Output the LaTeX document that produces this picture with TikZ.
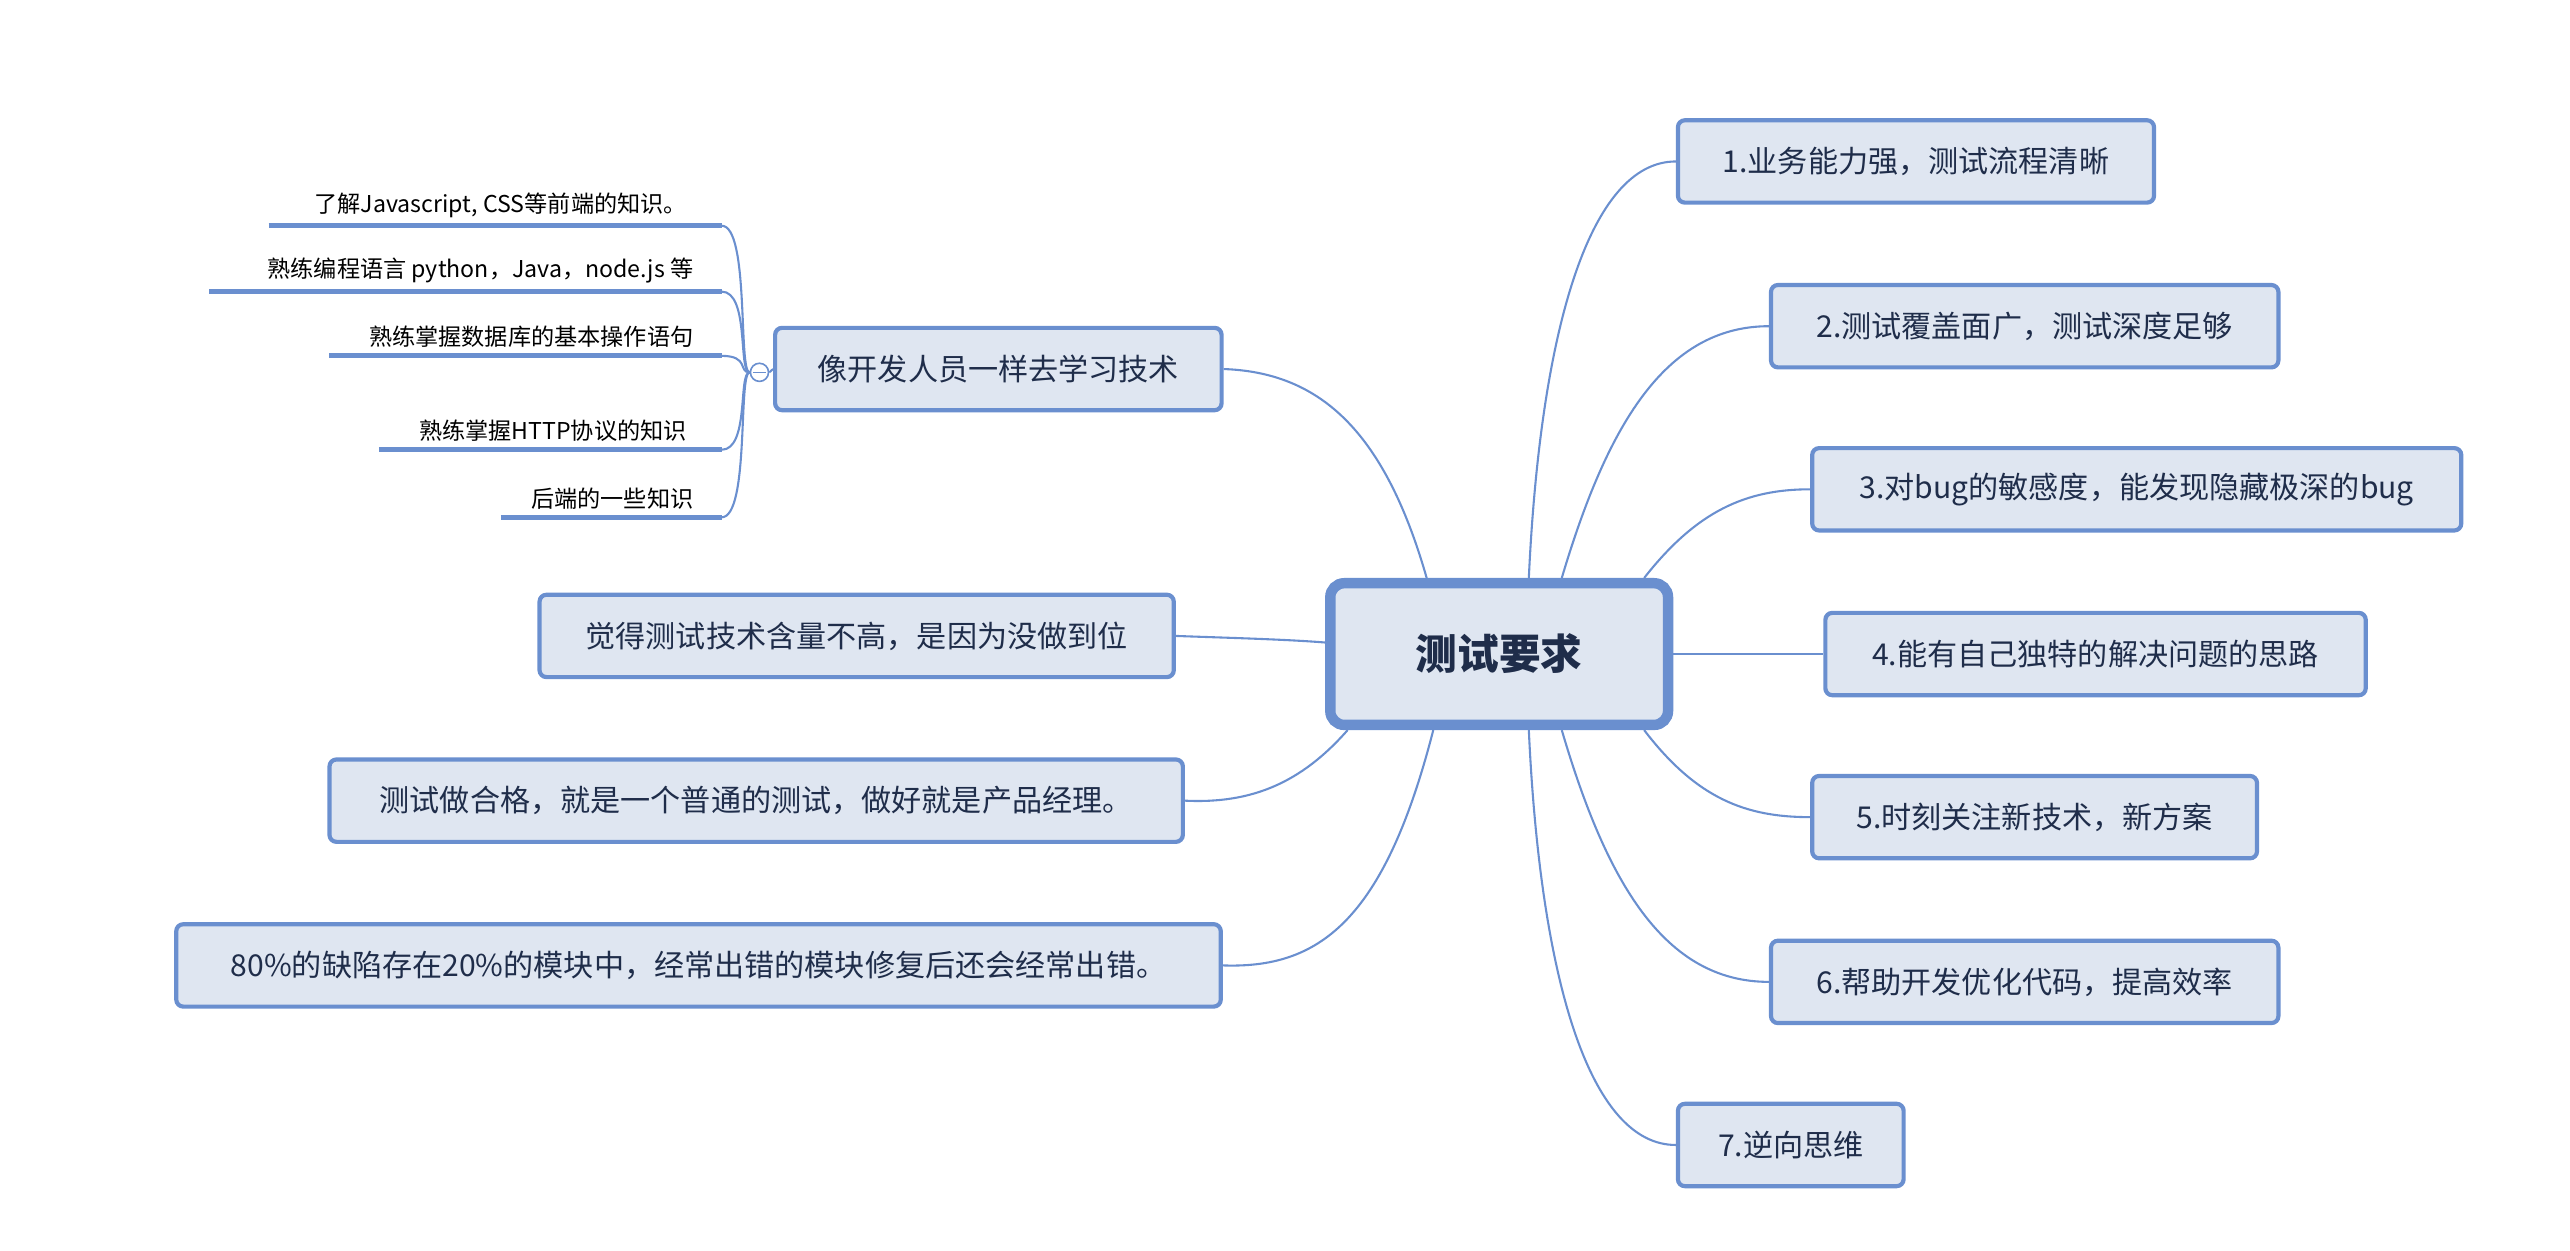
\documentclass[tikz,border=0pt]{standalone}
\usepackage{fontspec}
\setmainfont{Noto Sans CJK SC}
\definecolor{edgeblue}{HTML}{6A8FCF}
\definecolor{boxfill}{HTML}{DFE6F1}
\definecolor{boxtext}{HTML}{1F2D4A}
\newdimen\px \px=0.025cm
\tikzset{
  topic/.style={draw=edgeblue, line width=1.8pt, fill=boxfill, rounded corners=3pt, text=boxtext,
    font=\fontsize{13}{15}\selectfont, inner sep=0pt, minimum height=50\px},
  subtopic/.style={anchor=south east, font=\fontsize{10}{12}\selectfont, inner sep=2pt},
  link/.style={draw=edgeblue, line width=0.9pt},
  uline/.style={draw=edgeblue, line width=2.2pt}
}
\begin{document}
\begin{tikzpicture}[x=0.025cm,y=-0.025cm]
\useasboundingbox (0,0) rectangle (1560,759);
% centre
\node[topic, line width=4.5pt, rounded corners=6pt, minimum width=205\px, minimum height=86\px,
  font=\fontsize{18}{20}\selectfont\bfseries] (root) at (910,397) {测试要求};
% right side
\node[topic, minimum width=289\px] (r1) at (1163,98) {1.业务能力强，测试流程清晰};
\node[topic, minimum width=308\px] (r2) at (1229,198) {2.测试覆盖面广，测试深度足够};
\node[topic, minimum width=394\px] (r3) at (1297,297) {3.对bug的敏感度，能发现隐藏极深的bug};
\node[topic, minimum width=328\px] (r4) at (1272,397) {4.能有自己独特的解决问题的思路};
\node[topic, minimum width=270\px] (r5) at (1235,496) {5.时刻关注新技术，新方案};
\node[topic, minimum width=308\px] (r6) at (1229,596) {6.帮助开发优化代码，提高效率};
\node[topic, minimum width=137\px] (r7) at (1087,695) {7.逆向思维};
% left side
\node[topic, minimum width=271\px] (l1) at (606,224) {像开发人员一样去学习技术};
\node[topic, minimum width=385\px] (l2) at (520,386) {觉得测试技术含量不高，是因为没做到位};
\node[topic, minimum width=518\px] (l3) at (459,486) {测试做合格，就是一个普通的测试，做好就是产品经理。};
\node[topic, minimum width=634\px] (l4) at (424,586) {80\%的缺陷存在20\%的模块中，经常出错的模块修复后还会经常出错。};
% sub topics
\node[subtopic] (s1) at (420,135) {了解Javascript, CSS等前端的知识。};
\node[subtopic] (s2) at (424,175) {熟练编程语言 python，Java，node.js 等};
\node[subtopic] (s3) at (424,214) {熟练掌握数据库的基本操作语句};
\node[subtopic] (s4) at (420,271) {熟练掌握HTTP协议的知识};
\node[subtopic] (s5) at (424,312) {后端的一些知识};
\coordinate (e1) at (438,137); \coordinate (e2) at (438,177); \coordinate (e3) at (438,216);
\coordinate (e4) at (438,273); \coordinate (e5) at (438,314);
\draw[uline] (163,137) -- (e1);
\draw[uline] (127,177) -- (e2);
\draw[uline] (200,216) -- (e3);
\draw[uline] (230,273) -- (e4);
\draw[uline] (304,314) -- (e5);
\node[draw=edgeblue, circle, inner sep=0pt, minimum size=11\px, line width=0.7pt, fill=white] (fold) at (461,226) {};
\draw[edgeblue, line width=0.7pt] (457,226) -- (465,226);
\draw[link] (l1.west) -- (fold.east);
\foreach \e in {e1,e2,e3,e4,e5}
  \draw[link] (fold.west) .. controls (448,226) and (455,0 |- \e) .. (\e);
% connectors from the centre
\draw[link] ([xshift=18\px]root.north) .. controls (935,200) and (965,98) .. (r1.west);
\draw[link] ([xshift=38\px]root.north) .. controls (975,260) and (1010,198) .. (r2.west);
\draw[link] ([xshift=88\px]root.north) .. controls (1030,310) and (1060,297) .. (r3.west);
\draw[link] (root.east) -- (r4.west);
\draw[link] ([xshift=88\px]root.south) .. controls (1030,485) and (1060,496) .. (r5.west);
\draw[link] ([xshift=38\px]root.south) .. controls (975,535) and (1010,596) .. (r6.west);
\draw[link] ([xshift=18\px]root.south) .. controls (935,595) and (965,695) .. (r7.west);
\draw[link] ([xshift=-44\px]root.north) .. controls (840,260) and (800,226) .. (l1.east);
\draw[link] ([yshift=7\px]root.west) .. controls (780,388) and (740,387) .. (l2.east);
\draw[link] ([xshift=-92\px]root.south) .. controls (790,475) and (760,488) .. (l3.east);
\draw[link] ([xshift=-40\px]root.south) .. controls (840,560) and (800,588) .. (l4.east);
\end{tikzpicture}
\end{document}
